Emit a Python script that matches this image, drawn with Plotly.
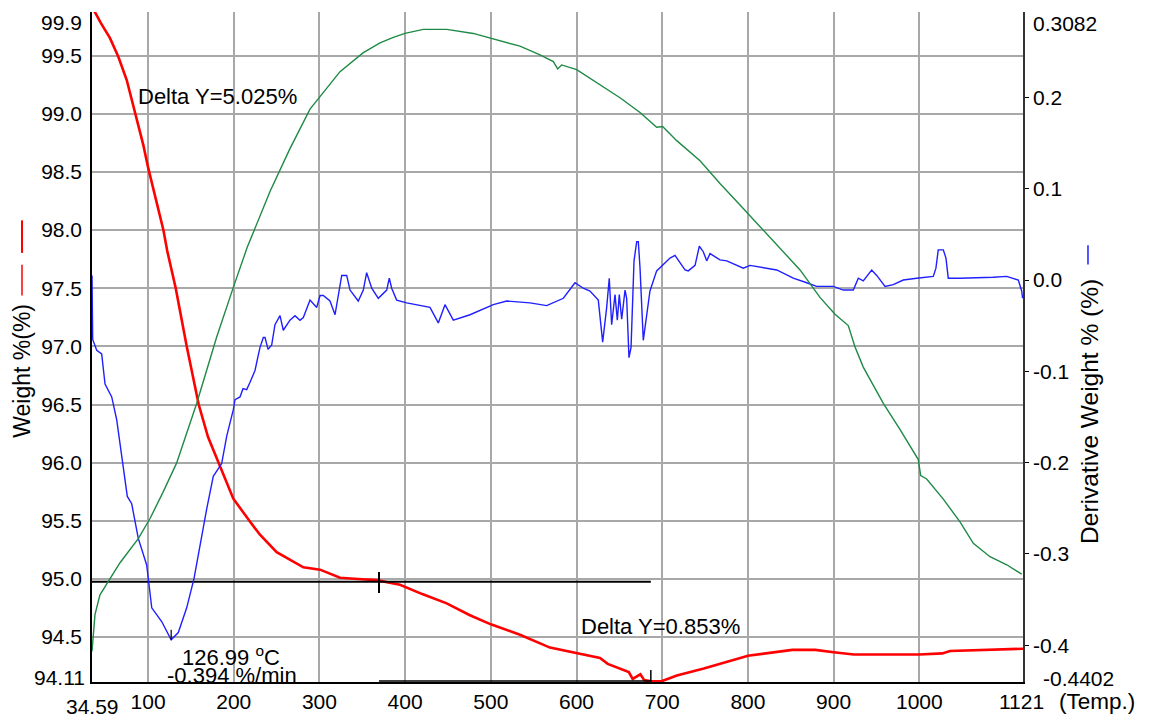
import plotly.graph_objects as go

# ---- Weight % (TGA) ----
weight_temp = [34.59, 38.1, 45.0, 55.6, 65.3, 75.1, 84.8, 94.5, 100.3, 110.1, 117.9, 122.4,
               132.3, 145.1, 159.1, 170.0, 182.0, 199.5, 219.3, 230.6, 250.1, 281.2, 300.7,
               324.0, 345.0, 366.8, 394.0, 420.0, 448.5, 475.0, 500.0, 534.0, 569.0, 600.5,
               627.4, 636.4, 647.6, 661.0, 665.5, 674.5, 679.0, 686.7, 699.1, 717.1, 748.5,
               800.1, 851.8, 878.7, 900.0, 923.5, 999.9, 1026.8, 1035.8, 1076.2, 1121.0]
weight_pct = [99.92, 99.87, 99.78, 99.65, 99.49, 99.29, 99.01, 98.73, 98.53, 98.22, 98.00, 97.82,
              97.50, 97.00, 96.50, 96.22, 96.00, 95.69, 95.49, 95.38, 95.23, 95.10, 95.08,
              95.01, 95.00, 94.99, 94.95, 94.87, 94.79, 94.69, 94.61, 94.52, 94.41, 94.36,
              94.32, 94.27, 94.24, 94.20, 94.14, 94.18, 94.13, 94.12, 94.12, 94.17, 94.23,
              94.34, 94.39, 94.39, 94.37, 94.35, 94.35, 94.36, 94.38, 94.39, 94.40]

# ---- Derivative weight % (DTG) ----
deriv_temp = [34.6, 35.4, 40.1, 45.9, 49.8, 57.6, 63.4, 69.3, 75.8, 80.9, 88.6, 98.4, 104.3,
              115.9, 126.99, 135.3, 145.1, 153.6, 162.6, 168.4, 176.1, 185.9, 191.8, 199.5,
              201.5, 207.3, 210.8, 215.1, 219.0, 224.8, 228.7, 230.6, 234.5, 236.5, 240.0,
              244.3, 248.1, 254.0, 257.8, 265.6, 271.5, 277.3, 281.2, 289.0, 296.8, 300.7,
              304.5, 312.3, 318.2, 326.0, 331.8, 335.7, 345.3, 351.2, 355.1, 361.0, 368.7,
              378.5, 381.5, 384.3, 390.1, 401.8, 429.0, 438.7, 446.5, 456.2, 475.7, 502.9,
              518.5, 545.7, 565.2, 584.6, 598.2, 607.9, 615.7, 625.4, 630.5, 635.2, 638.2,
              641.0, 644.9, 647.6, 649.9, 652.7, 656.6, 658.5, 661.2, 663.6, 667.1, 670.2,
              672.1, 674.1, 677.9, 681.9, 685.7, 693.5, 709.1, 714.9, 726.6, 730.4, 738.3,
              743.3, 745.8, 747.9, 751.9, 755.8, 767.4, 775.3, 794.6, 802.4, 833.6, 852.9,
              868.6, 880.2, 899.6, 911.3, 923.0, 928.8, 934.6, 944.4, 950.3, 960.0, 969.6,
              981.3, 996.9, 1016.3, 1019.4, 1022.1, 1028.0, 1031.1, 1033.8, 1047.3, 1086.2,
              1101.9, 1115.5, 1119.5, 1120.5]
deriv_pct = [0.005, -0.065, -0.077, -0.081, -0.114, -0.128, -0.153, -0.193, -0.237, -0.245,
             -0.283, -0.312, -0.359, -0.374, -0.394, -0.386, -0.359, -0.327, -0.280, -0.251,
             -0.215, -0.201, -0.171, -0.142, -0.131, -0.128, -0.119, -0.120, -0.112, -0.099,
             -0.082, -0.074, -0.063, -0.063, -0.076, -0.071, -0.049, -0.039, -0.055, -0.044,
             -0.039, -0.044, -0.041, -0.022, -0.030, -0.017, -0.017, -0.023, -0.038, 0.005,
             0.005, -0.011, -0.023, -0.011, 0.008, -0.009, -0.020, -0.011, 0.002, -0.009,
             -0.022, -0.025, -0.030, -0.047, -0.027, -0.044, -0.038, -0.027, -0.023, -0.025,
             -0.028, -0.020, -0.003, -0.009, -0.012, -0.022, -0.068, -0.030, 0.002, -0.049,
             -0.016, -0.044, -0.016, -0.043, -0.011, -0.020, -0.085, -0.074, 0.021, 0.042,
             0.042, 0.013, -0.066, -0.041, -0.012, 0.010, 0.024, 0.027, 0.011, 0.010, 0.016,
             0.037, 0.033, 0.031, 0.021, 0.029, 0.022, 0.021, 0.013, 0.016, 0.011, 0.002,
             -0.003, -0.007, -0.007, -0.011, -0.011, 0.002, -0.001, 0.011, 0.005, -0.007,
             -0.005, 0.000, 0.002, 0.004, 0.013, 0.033, 0.033, 0.024, 0.002, 0.002, 0.003,
             0.004, 0.000, -0.012, -0.020]

# ---- Third signal (unlabelled, relative scale 0-100) ----
signal_temp = [34.6, 35.8, 38.1, 43.9, 55.6, 67.3, 88.6, 102.3, 117.4, 133.4, 156.8, 180.1,
               199.5, 215.5, 242.3, 265.6, 289.0, 300.7, 324.0, 350.8, 370.7, 386.2, 399.8,
               421.2, 448.5, 479.5, 502.9, 534.0, 557.4, 572.9, 578.0, 582.7, 600.2, 623.5,
               650.7, 674.1, 693.5, 700.5, 716.9, 744.1, 767.4, 790.8, 814.1, 837.5, 860.8,
               884.1, 901.6, 917.1, 925.0, 934.6, 958.0, 977.4, 998.8, 1001.6, 1008.6, 1028.0,
               1047.5, 1063.0, 1082.5, 1102.0, 1119.5]
signal_rel = [4.6, 6.4, 10.1, 13.0, 15.5, 17.8, 21.4, 24.4, 28.3, 32.7, 41.6, 51.5,
              58.9, 64.8, 73.2, 79.6, 85.5, 87.4, 91.1, 93.9, 95.4, 96.2, 96.8,
              97.4, 97.4, 96.8, 96.0, 94.9, 93.6, 92.6, 91.5, 92.1, 91.4, 89.5,
              87.2, 85.0, 82.8, 82.9, 80.8, 77.8, 74.4, 71.2, 68.0, 64.8, 61.5,
              57.4, 54.9, 53.2, 50.0, 47.0, 41.6, 37.7, 33.2, 30.8, 30.3, 27.3,
              23.9, 20.7, 18.7, 17.5, 16.1]

# ---- Axis ranges and ticks ----
temp_range = [34.59, 1121]
weight_range = [94.114, 99.875]
deriv_range = [-0.4402, 0.2935]
signal_range = [0, 100]
temp_ticks = [100, 200, 300, 400, 500, 600, 700, 800, 900, 1000]
weight_ticks = [94.5, 95.0, 95.5, 96.0, 96.5, 97.0, 97.5, 98.0, 98.5, 99.0, 99.5]
deriv_ticks = [-0.4, -0.3, -0.2, -0.1, 0.0, 0.1, 0.2]
deriv_labels = ["-0.4", "-0.3", "-0.2", "-0.1", "0.0", "0.1", "0.2"]
end_labels = {"weight_top": "99.9", "weight_bottom": "94.11",
              "deriv_top": "0.3082", "deriv_bottom": "-0.4402",
              "temp_start": "34.59", "temp_end": "1121"}

# ---- Step analysis markers ----
step_level = 94.975          # weight at the end of step 1
step_end_level = 94.122      # weight at the end of step 2
step_split_temp = 369.5
step_end_temp = 686.7
delta_step1 = "Delta Y=5.025%"
delta_step2 = "Delta Y=0.853%"
peak_temp = 126.99
peak_rate = -0.394

FONT = "Liberation Sans, Arial, sans-serif"
RED = "#ff0000"
BLUE = "#1f1fff"
GREEN = "#1e8a45"
GRID = "#a8a8a8"

fig = go.Figure()

fig.add_trace(go.Scatter(x=signal_temp, y=signal_rel, mode="lines", yaxis="y3",
                         line=dict(color=GREEN, width=1.4), hoverinfo="skip"))
fig.add_trace(go.Scatter(x=deriv_temp, y=deriv_pct, mode="lines", yaxis="y2",
                         line=dict(color=BLUE, width=1.4)))
fig.add_trace(go.Scatter(x=weight_temp, y=weight_pct, mode="lines", yaxis="y",
                         line=dict(color=RED, width=2.6)))

# step markers (black)
blk = dict(color="black", width=2)
fig.add_trace(go.Scatter(x=[temp_range[0], step_end_temp], y=[step_level, step_level],
                         mode="lines", line=blk, yaxis="y"))
fig.add_trace(go.Scatter(x=[step_split_temp, step_split_temp], y=[step_level + 0.085, step_level - 0.095],
                         mode="lines", line=blk, yaxis="y"))
fig.add_trace(go.Scatter(x=[step_split_temp, step_end_temp], y=[step_end_level, step_end_level],
                         mode="lines", line=dict(color="black", width=1.5), yaxis="y"))
fig.add_trace(go.Scatter(x=[step_end_temp, step_end_temp], y=[step_end_level + 0.095, weight_range[0]],
                         mode="lines", line=dict(color="black", width=1.5), yaxis="y"))
# peak marker on the DTG minimum
fig.add_trace(go.Scatter(x=[peak_temp, peak_temp], y=[peak_rate + 0.011, peak_rate],
                         mode="lines", line=dict(color="black", width=1.2), yaxis="y2"))

tick_font = dict(family=FONT, size=21, color="black")
label_font = dict(family=FONT, size=22, color="black")

fig.update_layout(
    width=1153, height=725,
    margin=dict(l=92, r=130, t=12, b=37),
    paper_bgcolor="white", plot_bgcolor="white",
    showlegend=False,
    font=dict(family=FONT, size=21, color="black"),
    xaxis=dict(range=temp_range, tickvals=temp_ticks, showgrid=True, gridcolor=GRID,
               gridwidth=1.5, showline=True, linecolor="black", linewidth=1.5,
               ticks="", tickfont=tick_font, zeroline=False),
    yaxis=dict(range=weight_range, tickvals=weight_ticks, tickformat=".1f", showgrid=True,
               gridcolor=GRID, gridwidth=1.5, showline=True, linecolor="black", linewidth=1.5,
               ticks="", tickfont=tick_font, zeroline=False, ticklabelstandoff=4),
    yaxis2=dict(range=deriv_range, overlaying="y", side="right", tickvals=deriv_ticks,
                ticktext=deriv_labels, showgrid=False, showline=True, linecolor="#333333",
                linewidth=1.5, ticks="outside", ticklen=4, tickcolor="black",
                tickfont=tick_font, zeroline=False),
    yaxis3=dict(range=signal_range, overlaying="y", visible=False),
)

ann = []
# end-of-axis labels
ann.append(dict(text=end_labels["weight_top"], xref="paper", yref="paper", x=-0.009, y=1.0,
                xanchor="right", yanchor="top", showarrow=False, font=tick_font, yshift=3))
ann.append(dict(text=end_labels["weight_bottom"], xref="paper", yref="paper", x=-0.005, y=0.0,
                xanchor="right", yanchor="bottom", showarrow=False, font=tick_font, yshift=-9))
ann.append(dict(text=end_labels["deriv_top"], xref="paper", yref="paper", x=1.009, y=1.0,
                xanchor="left", yanchor="top", showarrow=False, font=tick_font, yshift=2))
ann.append(dict(text=end_labels["deriv_bottom"], xref="paper", yref="paper", x=1.019, y=0.0,
                xanchor="left", yanchor="bottom", showarrow=False, font=tick_font, yshift=-10))
ann.append(dict(text=end_labels["temp_start"], xref="x", yref="paper", x=temp_range[0], y=0.0,
                xanchor="center", yanchor="top", showarrow=False, font=tick_font, yshift=-11))
ann.append(dict(text=end_labels["temp_end"], xref="x", yref="paper", x=temp_range[1], y=0.0,
                xanchor="center", yanchor="top", showarrow=False, font=tick_font, yshift=-6, xshift=-2))
ann.append(dict(text="(Temp.)", xref="paper", yref="paper", x=1.037, y=0.0,
                xanchor="left", yanchor="top", showarrow=False,
                font=dict(family=FONT, size=22.5, color="black"), yshift=-5))
# axis titles
ann.append(dict(text="Weight %(%)", xref="paper", yref="paper", x=-0.0752, y=0.4645,
                xanchor="center", yanchor="middle", textangle=-90, showarrow=False,
                font=dict(family=FONT, size=23, color="black")))
ann.append(dict(text="Derivative Weight % (%)", xref="paper", yref="paper", x=1.0715, y=0.404,
                xanchor="center", yanchor="middle", textangle=-90, showarrow=False,
                font=dict(family=FONT, size=24.5, color="black")))
# step and peak labels
ann.append(dict(text=delta_step1, xref="x", yref="y", x=86, y=99.15, xanchor="left",
                yanchor="middle", showarrow=False, font=label_font))
ann.append(dict(text=delta_step2, xref="x", yref="y", x=603, y=94.59, xanchor="left",
                yanchor="middle", showarrow=False, font=label_font))
ann.append(dict(text=f"{peak_temp:.2f} <sup>o</sup>C", xref="x", yref="y", x=137, y=94.34,
                xanchor="left", yanchor="middle", showarrow=False, font=label_font))
ann.append(dict(text=f"{peak_rate:.3f} %/min", xref="x", yref="y", x=120, y=94.17,
                xanchor="left", yanchor="middle", showarrow=False, font=label_font))
fig.update_layout(annotations=ann)

# colour keys beside the axis titles
fig.add_shape(type="line", xref="paper", yref="paper", x0=-0.0752, x1=-0.0752, y0=0.6405, y1=0.689,
              line=dict(color=RED, width=2))
fig.add_shape(type="line", xref="paper", yref="paper", x0=-0.0752, x1=-0.0752, y0=0.577, y1=0.6228,
              line=dict(color=RED, width=1.5))
fig.add_shape(type="line", xref="paper", yref="paper", x0=1.0698, x1=1.0698, y0=0.623, y1=0.652,
              line=dict(color=BLUE, width=1.5))

fig.write_html("out.html")
